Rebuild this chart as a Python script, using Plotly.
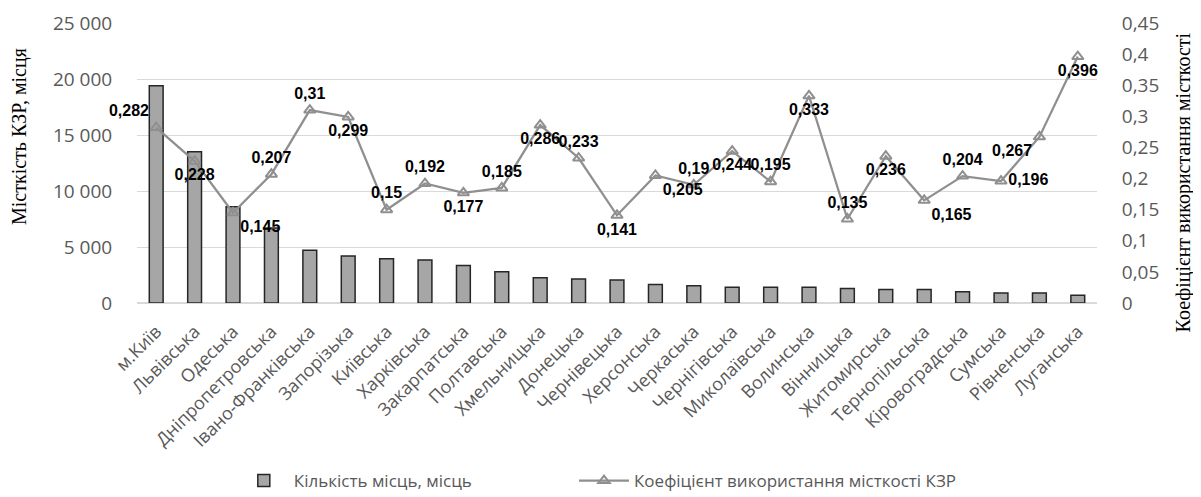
import plotly.graph_objects as go

regions = ["м.Київ", "Львівська", "Одеська", "Дніпропетровська", "Івано-Франківська",
           "Запорізька", "Київська", "Харківська", "Закарпатська", "Полтавська",
           "Хмельницька", "Донецька", "Чернівецька", "Херсонська", "Черкаська",
           "Чернігівська", "Миколаївська", "Волинська", "Вінницька", "Житомирська",
           "Тернопільська", "Кіровоградська", "Сумська", "Рівненська", "Луганська"]

places = [19400, 13500, 8600, 6700, 4700, 4200, 3950, 3850, 3350, 2800,
          2250, 2150, 2050, 1650, 1550, 1400, 1400, 1400, 1300, 1200,
          1200, 1000, 900, 900, 700]

coef = [0.282, 0.228, 0.145, 0.207, 0.31, 0.299, 0.15, 0.192, 0.177, 0.185,
        0.286, 0.233, 0.141, 0.205, 0.19, 0.244, 0.195, 0.333, 0.135, 0.236,
        0.165, 0.204, 0.196, 0.267, 0.396]

label_pos = ["top left", "bottom center", "bottom right", "top center", "top center",
             "bottom center", "top center", "top center", "bottom center", "top center",
             "bottom center", "top center", "bottom center", "bottom right", "top center",
             "bottom center", "top center", "bottom center", "top center", "bottom center",
             "bottom right", "top center", "middle right", "bottom left", "bottom center"]

left_ticks = [0, 5000, 10000, 15000, 20000, 25000]
right_ticks = [0, 0.05, 0.1, 0.15, 0.2, 0.25, 0.3, 0.35, 0.4, 0.45]
right_ticktext = ["0", "0,05", "0,1", "0,15", "0,2", "0,25", "0,3", "0,35", "0,4", "0,45"]

bar_name = "Кількість місць, місць"
line_name = "Коефіцієнт використання місткості КЗР"
left_title = "Місткість КЗР, місця"
right_title = "Коефіцієнт використання місткості"

GRAY_TXT = "#595959"
SANS = "Open Sans"
GAP = "\u00a0" * 22  # visual spacing between the two legend entries

fig = go.Figure()
fig.add_trace(go.Bar(
    x=regions, y=places, name=bar_name + GAP, yaxis="y",
    marker=dict(color="#a6a6a6", line=dict(color="#262626", width=1.5)),
))
fig.add_trace(go.Scatter(
    x=regions, y=coef, name=line_name, yaxis="y2",
    mode="lines+markers+text",
    line=dict(color="#8f8f8f", width=2.25),
    marker=dict(symbol="triangle-up-open", size=10, color="#8f8f8f", line=dict(width=2)),
    text=[f"{v:g}".replace(".", ",") for v in coef],
    textposition=label_pos,
    textfont=dict(family="Liberation Sans", size=16, color="black", weight="bold"),
    cliponaxis=False,
))

# page body adds an 8px offset, so the figure is 8px smaller than the window
fig.update_layout(
    width=1193, height=489,
    margin=dict(l=129, r=104, t=15, b=194, autoexpand=False),
    paper_bgcolor="white", plot_bgcolor="white",
    separators=", ",
    bargap=0.64,
    showlegend=True,
    legend=dict(orientation="h", x=0.48, xanchor="center", y=-0.7, yanchor="bottom",
                font=dict(family=SANS, size=17, color=GRAY_TXT), itemwidth=50,
                bgcolor="rgba(0,0,0,0)"),
    xaxis=dict(range=[-0.5, len(regions) - 0.5], tickangle=-45,
               tickfont=dict(family=SANS, size=18, color=GRAY_TXT),
               showgrid=False, showline=False, ticks="outside", ticklen=10,
               tickcolor="rgba(0,0,0,0)", automargin=False),
    yaxis=dict(range=[0, 25000], tickvals=left_ticks, tickformat=",d",
               tickfont=dict(family=SANS, size=19, color=GRAY_TXT),
               gridcolor="#d9d9d9", gridwidth=1, zeroline=True, zerolinecolor="#d9d9d9",
               showline=False, ticks="outside", ticklen=20, tickcolor="rgba(0,0,0,0)",
               automargin=False),
    yaxis2=dict(range=[0, 0.45], overlaying="y", side="right",
                tickvals=right_ticks, ticktext=right_ticktext,
                tickfont=dict(family=SANS, size=19, color=GRAY_TXT),
                showgrid=False, zeroline=False, showline=False,
                ticks="outside", ticklen=20, tickcolor="rgba(0,0,0,0)", automargin=False),
    annotations=[
        dict(text=left_title, xref="paper", yref="paper", x=-0.123, y=0.596,
             textangle=-90, showarrow=False, xanchor="center", yanchor="middle",
             font=dict(family="Liberation Serif", size=20, color="black")),
        dict(text=right_title, xref="paper", yref="paper", x=1.09, y=0.432,
             textangle=-90, showarrow=False, xanchor="center", yanchor="middle",
             font=dict(family="Liberation Serif", size=20, color="black")),
    ],
)

fig.write_html("out.html")
